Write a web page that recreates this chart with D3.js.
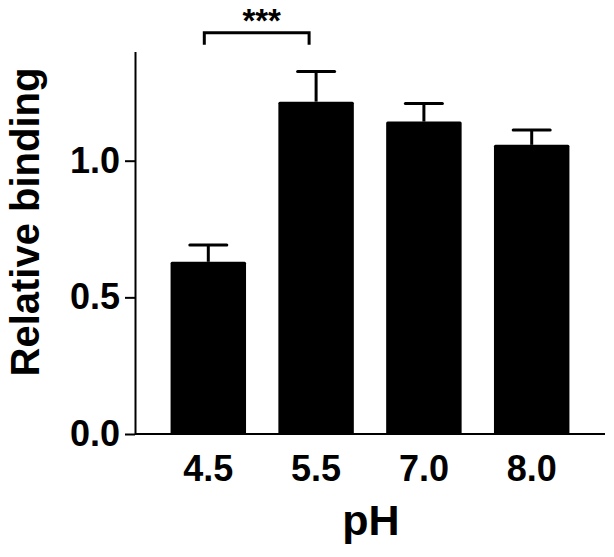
<!DOCTYPE html>
<html>
<head>
<meta charset="utf-8">
<script src="https://cdn.jsdelivr.net/npm/d3@7"></script>
<style>
  body { margin: 0; background: #fff; }
  svg { display: block; font-family: Arial, "Liberation Sans", Helvetica, sans-serif; font-weight: bold; }
</style>
</head>
<body>
<svg id="root" width="614" height="557"></svg>
<script>
// data
const categories = ['4.5', '5.5', '7.0', '8.0'];
const means = [0.63, 1.216, 1.143, 1.058];
const errors = [0.062, 0.11, 0.066, 0.054];
const yTicks = [0, 0.5, 1.0];
const sigPair = ['4.5', '5.5'];
const sigLabel = '***';
const sigLevel = 1.468;

const svg = d3.select('#root');

const x = d3.scaleBand()
  .domain(categories)
  .range([135, 605])
  .paddingInner(0.3)
  .paddingOuter(0.33);

const y = d3.scaleLinear()
  .domain([0, 1.4])
  .range([434, 434 - 1.4 * 273.3]);

const bars = categories.map((c, i) => ({ c, v: means[i], e: errors[i] }));

// error bars (drawn first so the bar covers the lower half)
const err = svg.append('g').attr('stroke', '#000').attr('stroke-width', 3);
err.selectAll('.stem')
  .data(bars)
  .enter()
  .append('line')
  .attr('x1', d => x(d.c) + x.bandwidth() / 2)
  .attr('x2', d => x(d.c) + x.bandwidth() / 2)
  .attr('y1', d => y(d.v))
  .attr('y2', d => y(d.v + d.e));
err.selectAll('.cap')
  .data(bars)
  .enter()
  .append('line')
  .attr('stroke-linecap', 'round')
  .attr('x1', d => x(d.c) + x.bandwidth() / 2 - 18.5)
  .attr('x2', d => x(d.c) + x.bandwidth() / 2 + 18.5)
  .attr('y1', d => y(d.v + d.e))
  .attr('y2', d => y(d.v + d.e));

// bars
svg.append('g')
  .selectAll('rect')
  .data(bars)
  .enter()
  .append('rect')
  .attr('x', d => x(d.c))
  .attr('y', d => y(d.v))
  .attr('width', x.bandwidth())
  .attr('height', d => y(0) - y(d.v))
  .attr('rx', 1.5)
  .attr('fill', '#000');

// y axis
const yAxis = svg.append('g')
  .attr('transform', 'translate(135,0)')
  .call(
    d3.axisLeft(y)
      .tickValues(yTicks)
      .tickFormat(d3.format('.1f'))
      .tickSize(10)
      .tickSizeOuter(0)
      .tickPadding(5),
  );
yAxis.selectAll('path, line').attr('stroke', '#000').attr('stroke-width', 2);
yAxis.selectAll('text')
  .attr('fill', '#000')
  .attr('font-size', 36)
  .attr('font-family', null)
  .attr('font-weight', 'bold');

// x axis
const xAxis = svg.append('g')
  .attr('transform', 'translate(0,434)')
  .call(d3.axisBottom(x).tickSize(0).tickSizeOuter(0).tickPadding(21));
xAxis.select('.domain')
  .attr('stroke', '#000')
  .attr('stroke-width', 2)
  .attr('d', `M${x.range()[0]},0H${x.range()[1]}`);
xAxis.selectAll('text')
  .attr('fill', '#000')
  .attr('font-size', 36)
  .attr('font-family', null)
  .attr('font-weight', 'bold');

// axis titles
svg.append('text')
  .attr('transform', 'translate(38.5,222) rotate(-90)')
  .attr('text-anchor', 'middle')
  .attr('font-size', 40)
  .text('Relative binding');

svg.append('text')
  .attr('x', 371)
  .attr('y', 535)
  .attr('text-anchor', 'middle')
  .attr('font-size', 43)
  .text('pH');

// significance bracket
const sx1 = x(sigPair[0]) + x.bandwidth() / 2 - 4;
const sx2 = x(sigPair[1]) + x.bandwidth() / 2 - 7;
const sy = y(sigLevel);
svg.append('path')
  .attr('d', `M${sx1},${sy + 12}V${sy}H${sx2}V${sy + 12}`)
  .attr('fill', 'none')
  .attr('stroke', '#000')
  .attr('stroke-width', 3);
svg.append('text')
  .attr('x', (sx1 + sx2) / 2 + 5)
  .attr('y', sy - 1)
  .attr('text-anchor', 'middle')
  .attr('font-size', 33)
  .text(sigLabel);
</script>
</body>
</html>
